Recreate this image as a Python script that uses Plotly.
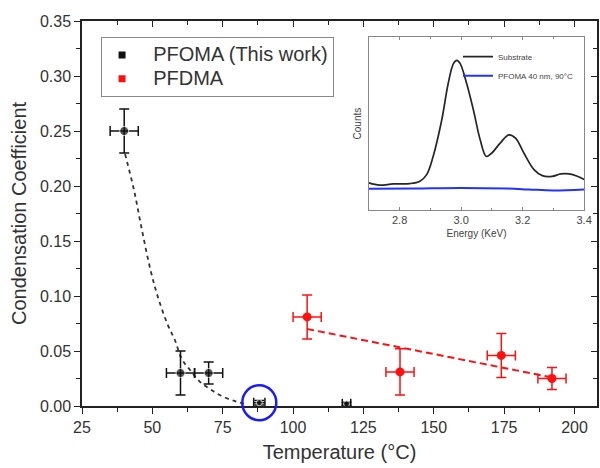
import plotly.graph_objects as go

# ---------------- data ----------------
pfoma_T = [40, 60, 70, 88, 119]
pfoma_cc = [0.250, 0.030, 0.030, 0.003, 0.002]
pfoma_T_err = [5, 5, 5, 2, 1.5]
pfoma_cc_err = [0.020, 0.020, 0.010, 0.002, 0.0015]

pfdma_T = [105, 138, 174, 192]
pfdma_cc = [0.081, 0.031, 0.046, 0.025]
pfdma_T_err = [5, 5, 5, 5]
pfdma_cc_err = [0.020, 0.021, 0.020, 0.010]

# dashed guide curve through the PFOMA data
pfoma_fit_T = [40.3, 43.5, 46.3, 49.4, 52.1, 55.6, 58.0, 60.4, 63.3, 66.9, 71.0, 75.2, 79.9, 83.0]
pfoma_fit_cc = [0.229, 0.196, 0.160, 0.123, 0.098, 0.073, 0.060, 0.043, 0.033, 0.022, 0.0145, 0.0084, 0.0039, 0.0018]

# linear trend through the PFDMA data (end points)
pfdma_fit_T = [105, 192]
pfdma_fit_cc = [0.070, 0.026]

# inset spectra
sub_E = [2.70, 2.735, 2.779, 2.833, 2.866, 2.888, 2.909, 2.937, 2.958, 2.975, 2.986, 2.997, 3.018,
         3.040, 3.062, 3.082, 3.100, 3.127, 3.155, 3.177, 3.204, 3.237, 3.264, 3.296, 3.324, 3.351, 3.378, 3.400]
sub_counts = [15.7, 14.4, 15.1, 15.3, 16.7, 20.5, 31.0, 52.1, 73.2, 84.7, 86.6, 84.7, 73.2,
              57.9, 40.6, 31.0, 33.0, 38.7, 43.5, 41.6, 33.0, 23.4, 19.9, 19.5, 20.9, 20.9, 19.5, 17.6]
film_E = [2.70, 2.85, 3.00, 3.15, 3.22, 3.30, 3.40]
film_counts = [12.3, 12.5, 12.8, 12.4, 11.9, 11.3, 11.9]

x_ticks = [25, 50, 75, 100, 125, 150, 175, 200]
y_ticks = [0.00, 0.05, 0.10, 0.15, 0.20, 0.25, 0.30, 0.35]
inset_ticks = [2.8, 3.0, 3.2, 3.4]

circled_T = 88
circled_cc = 0.003

# ---------------- figure ----------------
X_RANGE = [25, 208]
Y_RANGE = [0, 0.35]
BLACK = "#111111"
RED = "#ff1010"
FONT = "Liberation Sans, Arial, sans-serif"
TXT = "#333333"
AX = "#222222"

fig = go.Figure()

fig.add_trace(go.Scatter(x=pfoma_fit_T, y=pfoma_fit_cc, mode="lines", line_shape="spline",
                         line=dict(color="#333333", width=1.8, dash="4px,4px"),
                         showlegend=False, hoverinfo="skip"))
fig.add_trace(go.Scatter(x=pfdma_fit_T, y=pfdma_fit_cc, mode="lines",
                         line=dict(color=RED, width=2, dash="7px,4px"),
                         showlegend=False, hoverinfo="skip"))

fig.add_trace(go.Scatter(
    x=pfoma_T, y=pfoma_cc, mode="markers", showlegend=False,
    marker=dict(color=BLACK, size=[9, 9, 9, 6, 6], symbol="circle"),
    error_x=dict(type="data", array=pfoma_T_err, color=BLACK, thickness=1.5, width=5),
    error_y=dict(type="data", array=pfoma_cc_err, color=BLACK, thickness=1.5, width=5),
))
fig.add_trace(go.Scatter(
    x=pfdma_T, y=pfdma_cc, mode="markers", showlegend=False,
    marker=dict(color=RED, size=9, symbol="circle"),
    error_x=dict(type="data", array=pfdma_T_err, color=RED, thickness=1.5, width=5),
    error_y=dict(type="data", array=pfdma_cc_err, color=RED, thickness=1.5, width=5),
))

# legend entries
NB = "\u00a0\u00a0"
SPAN = "<span style='font-size:20px'>{}</span>"
fig.add_trace(go.Scatter(x=[None], y=[None], mode="markers",
                         name=SPAN.format(NB + "PFOMA (This work)"),
                         marker=dict(color=BLACK, size=7, symbol="square")))
fig.add_trace(go.Scatter(x=[None], y=[None], mode="markers",
                         name=SPAN.format(NB + "PFDMA"),
                         marker=dict(color=RED, size=7, symbol="square")))

# invisible trace carrying the inner-tick top/right axes
fig.add_trace(go.Scatter(x=[None], y=[None], xaxis="x3", yaxis="y3", showlegend=False,
                         hoverinfo="skip"))

# inset
fig.add_trace(go.Scatter(x=sub_E, y=sub_counts, mode="lines", name="Substrate",
                         line=dict(color="#262626", width=1.7, shape="spline"),
                         xaxis="x2", yaxis="y2", legend="legend2"))
fig.add_trace(go.Scatter(x=film_E, y=film_counts, mode="lines", name="PFOMA 40 nm, 90°C",
                         line=dict(color="#2233ff", width=2, shape="spline"),
                         xaxis="x2", yaxis="y2", legend="legend2"))

# blue highlight circle
fig.add_shape(type="circle", xref="paper", yref="paper",
              xsizemode="pixel", ysizemode="pixel",
              xanchor=(circled_T - X_RANGE[0]) / (X_RANGE[1] - X_RANGE[0]),
              yanchor=(circled_cc - Y_RANGE[0]) / (Y_RANGE[1] - Y_RANGE[0]),
              x0=-17, x1=17, y0=-17.5, y1=17.5,
              line=dict(color="#1a1aff", width=2.5), layer="above")

fig.update_layout(
    width=600, height=468,
    margin=dict(l=82, r=3, t=21, b=62, autoexpand=False),
    paper_bgcolor="white", plot_bgcolor="white",
    font=dict(family=FONT, color=TXT),
    xaxis=dict(range=X_RANGE, tickvals=x_ticks, showline=True, linecolor=AX, linewidth=1.5,
               mirror=True, ticks="outside", ticklen=6, tickwidth=1.3, tickcolor=AX,
               minor=dict(ticks="outside", dtick=12.5, tick0=25, ticklen=4, tickcolor=AX),
               showgrid=False, zeroline=False, tickfont=dict(size=16, color=TXT), automargin=False,
               title=dict(text="Temperature (°C)", font=dict(size=20, color=TXT), standoff=10)),
    yaxis=dict(range=Y_RANGE, tickvals=y_ticks, tickformat=".2f", showline=True, linecolor=AX,
               linewidth=1.5, mirror=True, ticks="outside", ticklen=6, tickwidth=1.3, tickcolor=AX,
               minor=dict(ticks="outside", dtick=0.025, tick0=0, ticklen=4, tickcolor=AX),
               showgrid=False, zeroline=False, tickfont=dict(size=16, color=TXT), automargin=False,
               title=dict(text="Condensation Coefficient", font=dict(size=20, color=TXT), standoff=8)),
    xaxis3=dict(overlaying="x", matches="x", side="top", anchor="y3", tickvals=x_ticks,
                ticks="inside", ticklen=6, tickwidth=1.3, tickcolor=AX, showline=False,
                minor=dict(ticks="inside", dtick=12.5, tick0=25, ticklen=4, tickcolor=AX),
                showticklabels=False, showgrid=False, zeroline=False, automargin=False),
    yaxis3=dict(overlaying="y", matches="y", side="right", anchor="x3", tickvals=y_ticks,
                ticks="inside", ticklen=6, tickwidth=1.3, tickcolor=AX, showline=False,
                minor=dict(ticks="inside", dtick=0.025, tick0=0, ticklen=4, tickcolor=AX),
                showticklabels=False, showgrid=False, zeroline=False, automargin=False),
    xaxis2=dict(domain=[0.557, 0.975], anchor="y2", range=[2.7, 3.4], tickvals=inset_ticks,
                tickformat=".1f", showline=True, linecolor="#888", linewidth=1, mirror="ticks",
                ticks="inside", ticklen=3, tickcolor="#888",
                minor=dict(ticks="inside", dtick=0.1, tick0=2.7, ticklen=2, tickcolor="#888"),
                showgrid=False, zeroline=False, tickfont=dict(size=11, color="#444"), automargin=False,
                title=dict(text="Energy (KeV)", font=dict(size=10, color="#444"), standoff=4)),
    yaxis2=dict(domain=[0.509, 0.958], anchor="x2", range=[0, 100], showline=True, linecolor="#888",
                linewidth=1, mirror=True, ticks="", showticklabels=False, showgrid=False,
                zeroline=False, automargin=False,
                title=dict(text="Counts", font=dict(size=10, color="#444"), standoff=4)),
    legend=dict(x=0.037, y=0.958, xanchor="left", yanchor="top", bgcolor="white",
                bordercolor="#888", borderwidth=1, font=dict(size=16, color=TXT),
                itemwidth=30, tracegroupgap=0),
    legend2=dict(x=0.965, y=0.945, xanchor="right", yanchor="top", bgcolor="rgba(0,0,0,0)",
                 borderwidth=0, font=dict(size=8, color="#444"), itemwidth=30, tracegroupgap=0),
)

fig.write_html("out.html", config={"displayModeBar": False},
               post_script="document.body.style.margin='0';"
               "document.body.style.padding='0';window.dispatchEvent(new Event('resize'));")
